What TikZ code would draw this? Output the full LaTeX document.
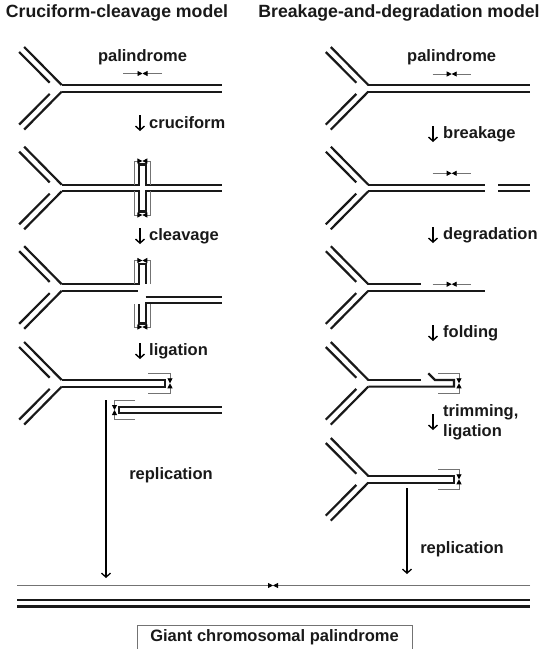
\documentclass[tikz,border=0pt]{standalone}
\usepackage{fontspec}
\setmainfont{Liberation Sans}
\usetikzlibrary{arrows.meta}
\begin{document}
\begin{tikzpicture}[x=1pt,y=-1pt,
  strand/.style={line width=2.2pt, line join=miter, line cap=butt, black!90},
  mk/.style={black!55, line width=0.8pt, -{Triangle[color=black,length=5pt,width=5pt]}},
  stepar/.style={line width=1.4pt, -{Straight Barb[length=4pt,width=9pt]}},
  reparrow/.style={line width=1.3pt, -{Straight Barb[length=4pt,width=9pt]}},
  lbl/.style={font=\bfseries\fontsize{16.5}{18}\selectfont, inner sep=0pt, text=black!90},
  head/.style={font=\bfseries\fontsize{17.7}{20}\selectfont, inner sep=0pt, text=black!90},
  forkarms/.pic={
    \draw[strand] (0,-3.3) -- (-37.5,-41.3);
    \draw[strand] (-42.5,-36.3) -- (-12,-5.6);
    \draw[strand] (0,3.3) -- (-37.5,41.3);
    \draw[strand] (-42.5,36.3) -- (-12,5.6);
  }]
\useasboundingbox (0,0) rectangle (548,649);

% headings
\node[head] (h1) at (117,13) {Cruciform-cleavage model};
\node[head] (h2) at (399,13) {Breakage-and-degradation model};

% ================= LEFT COLUMN =================
% row 1
\pic at (61.7,88.3) {forkarms};
\draw[strand] (61.7,85) -- (221.7,85) (61.7,91.6) -- (221.7,91.6);
\node[lbl] (pl1) at (142.5,57.5) {palindrome};
\draw[mk] (123,73.5) -- (142.5,73.5);
\draw[mk] (162,73.5) -- (142.5,73.5);
% step arrow
\node[lbl, anchor=west] (t1) at (149,123) {cruciform};
\coordinate (a1s) at (140,115); \coordinate (a1e) at (140,131);
\draw[stepar] (a1s) -- (a1e);

% row 2 cruciform
\pic at (61.7,188) {forkarms};
\draw[strand] (61.7,184.7) -- (139,184.7) -- (139,164.5) -- (145.7,164.5) -- (145.7,184.7) -- (221.7,184.7);
\draw[strand] (61.7,191.3) -- (139,191.3) -- (139,211.5) -- (145.7,211.5) -- (145.7,191.3) -- (221.7,191.3);
\draw[mk] (134,184.7) -- (134,161) -- (142.35,161);
\draw[mk] (150.7,184.7) -- (150.7,161) -- (142.35,161);
\draw[mk] (134,191.3) -- (134,215) -- (142.35,215);
\draw[mk] (150.7,191.3) -- (150.7,215) -- (142.35,215);
\node[lbl, anchor=west] (t2) at (149,236) {cleavage};
\coordinate (a2s) at (140,228); \coordinate (a2e) at (140,244);
\draw[stepar] (a2s) -- (a2e);

% row 3 cleavage
\pic at (61.7,287.5) {forkarms};
\draw[strand] (61.7,284.2) -- (139,284.2) -- (139,264) -- (145.7,264) -- (145.7,284.2);
\draw[strand] (61.7,290.8) -- (138.3,290.8);
\draw[mk] (134,284.2) -- (134,260.5) -- (142.35,260.5);
\draw[mk] (150.7,284.2) -- (150.7,260.5) -- (142.35,260.5);
\draw[strand] (145.7,296.7) -- (221.7,296.7);
\draw[strand] (139,304) -- (139,323.5) -- (145.7,323.5) -- (145.7,303.3) -- (221.7,303.3);
\draw[mk] (134,304) -- (134,327) -- (142.35,327);
\draw[mk] (150.7,304) -- (150.7,327) -- (142.35,327);
\node[lbl, anchor=west] (t3) at (149,351) {ligation};
\coordinate (a3s) at (140,343); \coordinate (a3e) at (140,359);
\draw[stepar] (a3s) -- (a3e);

% row 4 ligation
\pic at (61.7,383.3) {forkarms};
\draw[strand] (61.7,380) -- (165,380) -- (165,386.6) -- (61.7,386.6);
\draw[mk] (148.3,373.3) -- (170,373.3) -- (170,383.3);
\draw[mk] (148.3,393.3) -- (170,393.3) -- (170,383.3);
\draw[strand] (221.7,406.7) -- (119.3,406.7) -- (119.3,413.3) -- (221.7,413.3);
\draw[mk] (135,400.5) -- (114.5,400.5) -- (114.5,410);
\draw[mk] (135,419.5) -- (114.5,419.5) -- (114.5,410);

% replication left
\coordinate (rl0) at (106,400); \coordinate (rl1) at (106,578);
\draw[reparrow] (rl0) -- (rl1);
\node[lbl] (rep1) at (171,475) {replication};

% ================= RIGHT COLUMN =================
% row 1
\pic at (368.3,88.3) {forkarms};
\draw[strand] (368.3,85) -- (530,85) (368.3,91.6) -- (530,91.6);
\node[lbl] (pr1) at (451.7,57.5) {palindrome};
\draw[mk] (432.7,74) -- (451.7,74);
\draw[mk] (470.7,74) -- (451.7,74);
\node[lbl, anchor=west] (u1) at (443,134) {breakage};
\coordinate (b1s) at (433,126); \coordinate (b1e) at (433,142);
\draw[stepar] (b1s) -- (b1e);

% row 2 breakage
\pic at (368.3,188) {forkarms};
\draw[strand] (368.3,184.7) -- (485,184.7) (368.3,191.3) -- (485,191.3);
\draw[strand] (498.3,184.7) -- (530,184.7) (498.3,191.3) -- (530,191.3);
\draw[mk] (432.7,173.3) -- (451.7,173.3);
\draw[mk] (470.7,173.3) -- (451.7,173.3);
\node[lbl, anchor=west] (u2) at (443,235) {degradation};
\coordinate (b2s) at (433,227); \coordinate (b2e) at (433,243);
\draw[stepar] (b2s) -- (b2e);

% row 3 degradation
\pic at (368.3,287.5) {forkarms};
\draw[strand] (368.3,284.2) -- (420.7,284.2);
\draw[strand] (368.3,290.8) -- (485,290.8);
\draw[mk] (432.7,284.2) -- (451.7,284.2);
\draw[mk] (470.7,284.2) -- (451.7,284.2);
\node[lbl, anchor=west] (u3) at (443,333) {folding};
\coordinate (b3s) at (433,325); \coordinate (b3e) at (433,341);
\draw[stepar] (b3s) -- (b3e);

% row 4 folding
\pic at (368.3,383.3) {forkarms};
\draw[strand] (368.3,380) -- (420.7,380);
\draw[strand] (428.3,373.3) -- (435,380) -- (454,380) -- (454,386.6) -- (368.3,386.6);
\draw[mk] (438.3,373.3) -- (459,373.3) -- (459,383.3);
\draw[mk] (438.3,393.3) -- (459,393.3) -- (459,383.3);
\node[lbl, anchor=west] (u4a) at (443,412) {trimming,};
\node[lbl, anchor=west] (u4b) at (443,432) {ligation};
\coordinate (b4s) at (433,414); \coordinate (b4e) at (433,430);
\draw[stepar] (b4s) -- (b4e);

% row 5 trimming, ligation
\pic at (368.3,479.3) {forkarms};
\draw[strand] (368.3,476) -- (454,476) -- (454,482.6) -- (368.3,482.6);
\draw[mk] (438.3,469.3) -- (459,469.3) -- (459,479.3);
\draw[mk] (438.3,489.3) -- (459,489.3) -- (459,479.3);

% replication right
\coordinate (rr0) at (407,488); \coordinate (rr1) at (407,574);
\draw[reparrow] (rr0) -- (rr1);
\node[lbl] (rep2) at (462,549) {replication};

% ================= BOTTOM =================
\draw[mk] (17,585.5) -- (273,585.5);
\draw[mk] (530,585.5) -- (273,585.5);
\draw[line width=2.6pt, black!90] (17,600) -- (530,600) (17,606.5) -- (530,606.5);
\node[lbl, draw=black!55, line width=0.9pt, minimum width=275pt, minimum height=24pt] (gcp) at (274.5,637) {Giant chromosomal palindrome};
\end{tikzpicture}
\end{document}
